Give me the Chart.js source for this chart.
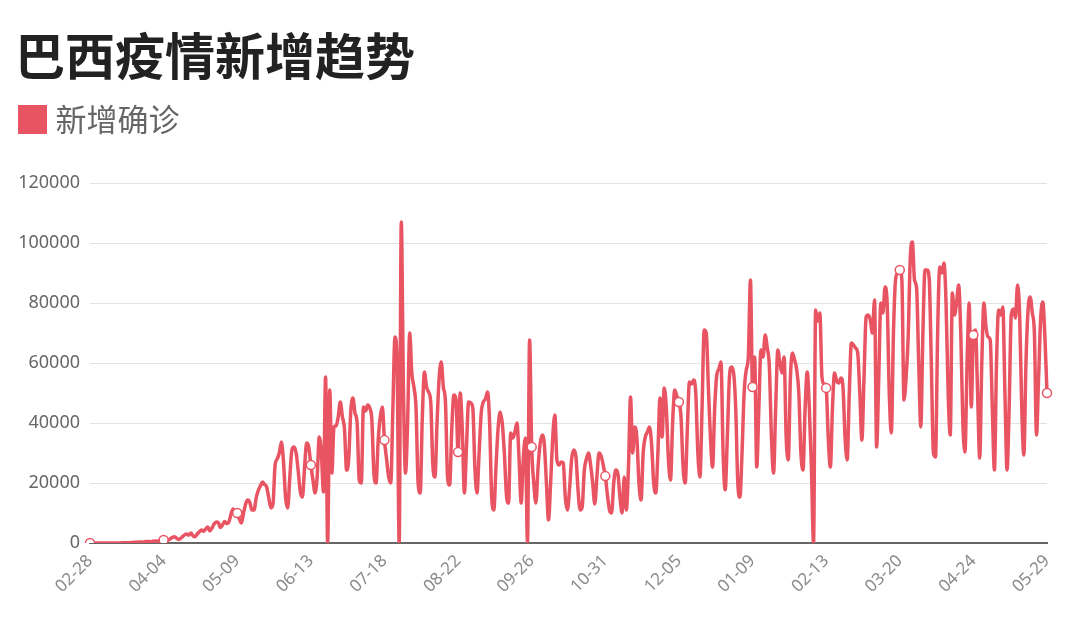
<!DOCTYPE html>
<html>
<head>
<meta charset="utf-8">
<script src="https://cdn.jsdelivr.net/npm/chart.js@4/dist/chart.umd.min.js"></script>
<style>
  html, body { margin: 0; padding: 0; background: #fff; }
  #wrap { width: 1080px; height: 635px; }
</style>
</head>
<body>
<div id="wrap"><canvas id="brazilChart" width="1080" height="635"></canvas></div>
<script>
// 颜色
const RED = "rgb(233, 84, 99)";
const GRID = "#e2e2e2";

// 日期: 2020-02-28 起, 源数据缺 02-29, 到 2021-05-29 共 456 天
const categories = [];
for (let d = new Date(Date.UTC(2020, 1, 28)); categories.length < 456; d.setUTCDate(d.getUTCDate() + 1)) {
    const mm = String(d.getUTCMonth() + 1).padStart(2, "0");
    const dd = String(d.getUTCDate()).padStart(2, "0");
    if (mm === "02" && dd === "29") continue;
    categories.push(mm + "-" + dd);
}
const TICK_EVERY = 35;   // 每 35 天一个刻度标签 + 圆点

const yTicks = [0, 20000, 40000, 60000, 80000, 100000, 120000];

// 每日新增确诊, 每行一周
const cases0228 = [
    0, 0, 0, 0, 1, 0, 1,
    2, 5, 10, 13, 8, 25, 31,
    22, 45, 60, 90, 120, 110, 180,
    230, 250, 300, 330, 270, 420, 480,
    520, 440, 600, 700, 600, 800, 1100,
    1000
];
const cases0405 = [
    1200, 1000, 1300, 1800, 2100, 1700, 1200,
    1500, 2100, 2700, 3000, 2600, 3300, 2400,
    2100, 3000, 3700, 4300, 3900, 4700, 5300,
    4000, 5000, 6300, 7000, 6800, 5200, 6000,
    7200, 6500, 7000, 9500, 11300, 10600, 10000
];
const cases0510 = [
    8000, 6700, 10000, 13000, 14300, 13500, 11000,
    11000, 15000, 17500, 19000, 20300, 19500, 18700,
    15000, 11700, 13000, 26000, 28000, 30000, 33700,
    27000, 15000, 11700, 22000, 31000, 32000, 30000,
    24000, 17000, 15300, 25000, 33300, 32000, 26000
];
const cases0614 = [
    21000, 16700, 22000, 35300, 30000, 17000, 55300,
    0, 51000, 23300, 38700, 39000, 42000, 47000,
    42000, 38000, 24300, 28000, 44000, 48300, 43300,
    40000, 21000, 20000, 45300, 44000, 46000, 45000,
    41000, 23000, 20000, 34000, 42000, 45300, 34300
];
const cases0719 = [
    28000, 22000, 20000, 45000, 68700, 60000, 0,
    107000, 52000, 23300, 40000, 70000, 56700, 52000,
    45000, 20000, 16700, 42000, 57000, 52000, 50300,
    47000, 26000, 22000, 40000, 55000, 60300, 52000,
    47000, 22000, 19300, 38000, 49300, 48000, 30300
];
const cases0823 = [
    50000, 38000, 16700, 32000, 47000, 46700, 45000,
    25000, 16700, 30000, 43300, 47000, 48000, 50300,
    40000, 15000, 11000, 25000, 38000, 43700, 40000,
    30000, 16000, 13300, 36700, 35000, 37000, 40000,
    28000, 13300, 28000, 35000, 0, 67700, 32000
];
const cases0927 = [
    20000, 13300, 25000, 33000, 36000, 33000, 20000,
    7700, 20000, 35000, 42700, 27700, 26000, 27000,
    26700, 15000, 11000, 18000, 28000, 31000, 29000,
    18000, 11000, 12000, 24000, 28000, 30000, 26000,
    20000, 13000, 22000, 30000, 29000, 26000, 22300
];
const cases1101 = [
    16000, 11000, 10000, 20000, 24300, 23000, 15000,
    10000, 22000, 11000, 25000, 48700, 30000, 38700,
    35000, 20000, 14300, 30000, 35300, 37000, 38700,
    33000, 20000, 16700, 30000, 48300, 35300, 51700,
    45000, 28000, 21000, 40000, 51000, 49000, 47000
];
const cases1206 = [
    42000, 25000, 20000, 38000, 53700, 53000, 54300,
    50000, 30000, 22000, 45000, 71000, 70000, 52000,
    35000, 25300, 45000, 56000, 58000, 60300, 30000,
    17700, 35000, 55000, 58700, 56700, 45000, 20000,
    15300, 30000, 50000, 57700, 62000, 87700, 52000
];
const cases0110 = [
    62000, 25300, 45000, 64300, 62000, 69300, 65000,
    58700, 35000, 23300, 45000, 64300, 60000, 56700,
    62000, 35000, 27700, 55000, 63300, 61000, 57700,
    50000, 30000, 24300, 45000, 57000, 45000, 25000,
    0, 77700, 74000, 76700, 55300, 53000, 51700
];
const cases0214 = [
    35000, 25300, 45000, 56700, 54000, 53300, 55000,
    52000, 35000, 27700, 50000, 66700, 66000, 65000,
    63300, 50000, 34300, 55000, 75300, 76000, 74300,
    70000, 81000, 32000, 55000, 80000, 76700, 85300,
    80000, 50000, 36700, 70000, 87700, 90000, 91000
];
const cases0321 = [
    87700, 47700, 55000, 68700, 95000, 100300, 87700,
    85000, 60000, 38700, 70000, 91000, 91000, 88000,
    60000, 30000, 28700, 70000, 92000, 90000, 93300,
    80000, 50000, 36000, 83300, 76000, 80000, 86000,
    70000, 40000, 30300, 60000, 80000, 45300, 69300
];
const cases0425 = [
    71000, 50000, 28300, 60000, 80000, 72000, 68700,
    67700, 45000, 24300, 60000, 77700, 76000, 78700,
    50000, 24300, 45000, 76000, 78000, 75000, 86000,
    76000, 45000, 29300, 60000, 77700, 82000, 76700,
    70000, 36000, 55000, 75000, 80300, 68700, 50000
];

const newCases = [].concat(
    cases0228, cases0405, cases0510, cases0614, cases0719, cases0823, cases0927,
    cases1101, cases1206, cases0110, cases0214, cases0321, cases0425
);

// 图例色块 (方块比文字间距更紧, 用画布当 pointStyle)
const legendSwatch = document.createElement("canvas");
legendSwatch.width = 29;
legendSwatch.height = 29;
const sw = legendSwatch.getContext("2d");
sw.fillStyle = RED;
sw.fillRect(0, 0, 29, 29);

// 图例和图表之间留白
const legendGap = {
    id: "legendGap",
    beforeInit(chart) {
        const fit = chart.legend.fit;
        chart.legend.fit = function () {
            fit.bind(chart.legend)();
            this.height += 38;
        };
    }
};

Chart.defaults.font.family = "'Noto Sans', 'Noto Sans CJK SC', sans-serif";

document.addEventListener("DOMContentLoaded", function () {
    const ctx = document.getElementById("brazilChart");

    new Chart(ctx, {
        type: "line",
        data: {
            labels: categories,
            datasets: [{
                label: "新增确诊",
                data: newCases,
                borderColor: RED,
                backgroundColor: RED,
                borderWidth: 3.5,
                cubicInterpolationMode: "monotone",
                fill: false,
                pointRadius: c => (c.dataIndex % TICK_EVERY === 0 ? 4.5 : 0),
                pointBackgroundColor: "#fff",
                pointBorderColor: RED,
                pointBorderWidth: 1.5,
                pointHoverRadius: 0
            }]
        },
        options: {
            responsive: false,
            animation: false,
            maintainAspectRatio: false,
            layout: {
                padding: { left: 15, right: 33, top: 0, bottom: 0 }
            },
            scales: {
                x: {
                    offset: false,
                    afterFit: s => { s.height = 92; },
                    grid: { display: false, drawTicks: false },
                    border: { display: true, color: "#666", width: 2 },
                    ticks: {
                        autoSkip: false,
                        minRotation: 45,
                        maxRotation: 45,
                        padding: 8,
                        color: "#8a8a8a",
                        font: { size: 17 },
                        callback: (v, i) => (i % TICK_EVERY === 0 ? categories[i] : null)
                    }
                },
                y: {
                    min: 0,
                    max: 120000,
                    afterFit: s => { s.width = 75; },
                    afterBuildTicks: s => { s.ticks = yTicks.map(v => ({ value: v })); },
                    grid: { color: GRID, lineWidth: 1, drawTicks: false },
                    border: { display: false },
                    ticks: {
                        padding: 10,
                        color: "#666",
                        font: { size: 18 },
                        callback: v => String(v)
                    }
                }
            },
            plugins: {
                title: {
                    display: true,
                    text: "巴西疫情新增趋势",
                    align: "start",
                    color: "#222",
                    font: { family: "'Noto Sans CJK SC', sans-serif", size: 50, weight: "bold" },
                    padding: { top: 26, bottom: 8 }
                },
                legend: {
                    display: true,
                    position: "top",
                    align: "start",
                    labels: {
                        usePointStyle: true,
                        pointStyle: legendSwatch,
                        pointStyleWidth: 15,
                        boxHeight: 29,
                        padding: 10,
                        color: "#666",
                        font: { family: "'Noto Sans CJK SC', sans-serif", size: 31 }
                    }
                },
                tooltip: { enabled: false }
            }
        },
        plugins: [legendGap]
    });
});
</script>
</body>
</html>
